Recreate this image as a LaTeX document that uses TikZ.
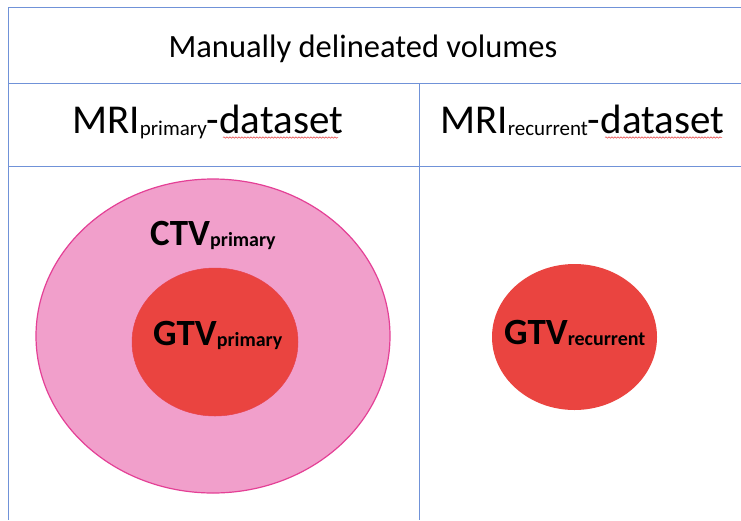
\documentclass[tikz,border=0pt]{standalone}
\usepackage{fontspec}
\setmainfont{Carlito}
\usetikzlibrary{shapes.geometric,decorations.pathmorphing}
\definecolor{gridblue}{RGB}{112,146,216}
\definecolor{ctvfill}{RGB}{241,159,203}
\definecolor{ctvline}{RGB}{228,64,150}
\definecolor{gtvfill}{RGB}{234,68,64}
\definecolor{spellred}{RGB}{230,60,60}
\newcommand{\fs}[1]{\fontsize{#1}{#1}\selectfont}
\newcommand{\lowsub}[2]{\raisebox{-#1pt}{#2}}
\tikzset{
  grid/.style={draw=gridblue, line width=1pt},
  hdr/.style={inner sep=0pt, anchor=base west},
  vol/.style={ellipse, inner sep=0pt},
  spell/.style={draw=spellred, line width=0.5pt,
    decorate, decoration={snake, segment length=3pt, amplitude=0.7pt}}
}
\begin{document}
\begin{tikzpicture}[x=1pt,y=-1pt]
\useasboundingbox (0,0) rectangle (741,520);
\fill[white] (0,0) rectangle (741,520);

% table rules
\coordinate (tl) at (8,7);
\coordinate (tr) at (741,7);
\coordinate (bl) at (8,520);
\coordinate (r1l) at (8,83.5);
\coordinate (r1r) at (741,83.5);
\coordinate (r2l) at (8,166);
\coordinate (r2r) at (741,166);
\coordinate (ct) at (419,83.5);
\coordinate (cb) at (419,520);
\draw[grid] (tl) -- (tr);
\draw[grid] (tl) -- (bl);
\draw[grid] (r1l) -- (r1r);
\draw[grid] (r2l) -- (r2r);
\draw[grid] (ct) -- (cb);

% header texts
\node[inner sep=0pt, anchor=base] (title) at (363,57) {\fs{32.5}Manually delineated volumes};
\node[hdr] (hprim) at (72,133) {\fs{41}MRI\lowsub{2}{\fs{21}primary}-dataset};
\node[hdr] (hrec) at (440,133) {\fs{41}MRI\lowsub{2}{\fs{21}recurrent}-dataset};

% spelling marks under "dataset"
\coordinate (s1a) at (223,137.5);
\coordinate (s1b) at (338,137.5);
\coordinate (s2a) at (605,137.5);
\coordinate (s2b) at (722,137.5);
\draw[spell] (s1a) -- (s1b);
\draw[spell] (s2a) -- (s2b);

% volumes
\node[vol, fill=ctvfill, draw=ctvline, line width=1.2pt,
      minimum width=354pt, minimum height=314pt] (ctv) at (213,336) {};
\node[vol, fill=gtvfill, draw=gtvfill!85!ctvline, line width=0.5pt,
      minimum width=166pt, minimum height=148pt] (gtvp) at (215,342) {};
\node[vol, fill=gtvfill, minimum width=165pt, minimum height=146pt] (gtvr) at (574.5,337) {};

\node[hdr] (ctvlab) at (150,245) {\fs{37}\bfseries CTV\lowsub{1}{\fs{20}primary}};
\node[hdr] (gtvplab) at (153,345) {\fs{37}\bfseries GTV\lowsub{1}{\fs{20}primary}};
\node[hdr] (gtvrlab) at (504,344) {\fs{37}\bfseries GTV\lowsub{1}{\fs{20}recurrent}};
\end{tikzpicture}
\end{document}
